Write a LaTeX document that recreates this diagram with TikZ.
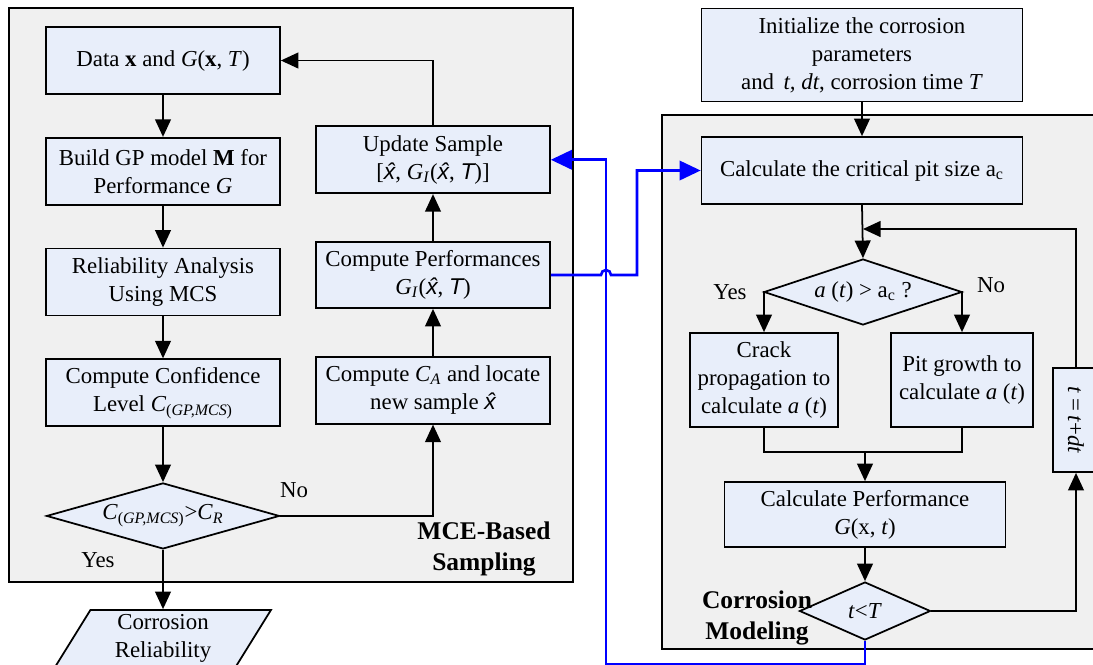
\documentclass[tikz,border=0pt]{standalone}
\usepackage{fontspec}
\setmainfont{Liberation Serif}
\setsansfont{Liberation Sans}
\usetikzlibrary{
		positioning,
		arrows.meta,
		shapes.geometric
	}
\definecolor{boxfill}{RGB}{232,238,250}
\definecolor{panelfill}{RGB}{240,240,240}
\tikzset{
		>={Triangle[length=10pt,width=9pt]}
	}
\newcommand{\xh}{{\sffamily\itshape\^{x}}}
\newcommand{\txtfont}{\fontsize{13}{16}\selectfont}

\begin{document}
\begin{tikzpicture}[x=0.02cm, y=-0.02cm,
		box/.style={draw, fill=boxfill, line width=1pt, align=center, inner sep=1pt, font=\txtfont},
		dec/.style={draw, fill=boxfill, diamond, shape aspect=3, line width=1pt, inner sep=0pt, font=\txtfont},
		panel/.style={draw, fill=panelfill, line width=1pt},
		lbl/.style={font=\txtfont, inner sep=0pt},
		title/.style={font=\fontsize{14.5}{18}\selectfont\bfseries, align=center, inner sep=0pt},
		arr/.style={->, line width=1pt},
		blu/.style={draw=blue, line width=1.5pt, -{Triangle[length=12pt,width=11pt]}}]
		\useasboundingbox (0,0) rectangle (1093,664);
		% the two panels
		\draw[panel] (9,8) rectangle (573,582);
		\draw[panel] (662,115) rectangle (1120,649);
		% MCE-based sampling
		\node[box, minimum width=4.68cm, minimum height=1.34cm] (data) at (163,60.5) {Data \textbf{x} and \textit{G}(\textbf{x}, \textit{T})};
		\node[box, minimum width=4.68cm, minimum height=1.34cm, below=0.84cm of data] (gp) {Build GP model \textbf{M} for\\Performance \textit{G}};
		\node[box, minimum width=4.68cm, minimum height=1.34cm, below=0.84cm of gp] (rel) {Reliability Analysis\\Using MCS};
		\node[box, minimum width=4.68cm, minimum height=1.34cm, below=0.84cm of rel] (conf) {Compute Confidence\\Level \textit{C}\textsubscript{(\textit{GP,MCS})}};
		\node[dec, minimum width=4.66cm, minimum height=1.32cm, below=1.1cm of conf] (cmp) {\textit{C}\textsubscript{(\textit{GP,MCS})}>\textit{C}\textsubscript{\textit{R}}};
		\node[box, minimum width=4.68cm, minimum height=1.32cm] (perf) at (433,275) {Compute Performances\\\textit{G}\textsubscript{\textit{I}}(\xh, {\sffamily\itshape T})};
		\node[box, minimum width=4.68cm, minimum height=1.34cm, above=0.94cm of perf] (upd) {Update Sample\\{[}\xh, \textit{G}\textsubscript{\textit{I}}(\xh, {\sffamily\itshape T})]};
		\node[box, minimum width=4.68cm, minimum height=1.34cm, below=0.94cm of perf] (ca) {Compute \textit{C}\textsubscript{\textit{A}} and locate\\new sample \xh};
		\node[draw, fill=boxfill, trapezium, trapezium left angle=64, trapezium right angle=116, trapezium stretches=true,
			line width=1pt, minimum width=4.34cm, minimum height=1.14cm, align=center, inner sep=0pt, font=\txtfont] (out) at (163,638.5) {Corrosion\\Reliability};
		\node[lbl] (no1) at (294,490) {No};
		\node[lbl] (yes1) at (98,560) {Yes};
		\node[title] (mcelbl) at (484,549) {MCE-Based\\Sampling};
		% corrosion modeling
		\node[box, minimum width=6.42cm, minimum height=1.86cm] (init) at (862,55) {Initialize the corrosion\\parameters\\and\, \textit{t, dt}, corrosion time \textit{T}};
		\node[box, minimum width=6.42cm, minimum height=1.34cm] (crit) at (862,170.5) {Calculate the critical pit size a\textsubscript{c}};
		\node[dec, minimum width=3.96cm, minimum height=1.32cm] (grow) at (863,292) {\textit{a} (\textit{t}) > a\textsubscript{c} ?};
		\node[box, minimum width=2.96cm, minimum height=1.88cm] (crack) at (764,380) {Crack\\propagation to\\calculate \textit{a} (\textit{t})};
		\node[box, minimum width=2.84cm, minimum height=1.88cm] (pit) at (962,380) {Pit growth to\\calculate \textit{a} (\textit{t})};
		\node[box, minimum width=5.62cm, minimum height=1.3cm] (calc) at (865,514.5) {Calculate Performance\\\textit{G}(x, \textit{t})};
		\node[dec, minimum width=2.62cm, minimum height=1.16cm] (tend) at (865,611) {\textit{t}<\textit{T}};
		\node[box, minimum width=0.92cm, minimum height=2.08cm] (tstep) at (1076,420) {\rotatebox{-90}{\textit{t} =\,\textit{t}+\textit{dt}}};
		\node[lbl] (yes2) at (730,292) {Yes};
		\node[lbl] (no2) at (991,285) {No};
		\node[title] (corrlbl) at (757,618) {Corrosion\\Modeling};
		\coordinate (join) at (863,229);
		\coordinate (merge) at (865,452);
		\coordinate (bot) at (606,664);
		% black connectors
		\draw[arr] (data) -- (gp);
		\draw[arr] (gp) -- (rel);
		\draw[arr] (rel) -- (conf);
		\draw[arr] (conf) -- (cmp);
		\draw[arr] (cmp.south) -- (out.north);
		\draw[arr] (cmp.east) -| (ca.south);
		\draw[arr] (ca) -- (perf);
		\draw[arr] (perf) -- (upd);
		\draw[arr] (upd.north) |- (data.east);
		\draw[arr] (init) -- (crit);
		\draw[arr] (crit.south) -- (grow.north);
		\draw[arr] (tstep.north) |- (join);
		\draw[arr] (grow.west) -| (crack.north);
		\draw[arr] (grow.east) -| (pit.north);
		\draw[line width=1pt] (crack.south) |- (merge) -| (pit.south);
		\draw[arr] (merge) -- (calc.north);
		\draw[arr] (calc) -- (tend);
		\draw[arr] (tend.east) -| (tstep.south);
		% blue links between the panels
		\draw[blu] (perf.east) -- (601,275) arc[start angle=180, end angle=0, radius=0.1cm] -- (637,275) |- (crit.west);
		\draw[blu] (tend.south) |- (bot) |- (upd.east);
	\end{tikzpicture}
\end{document}
